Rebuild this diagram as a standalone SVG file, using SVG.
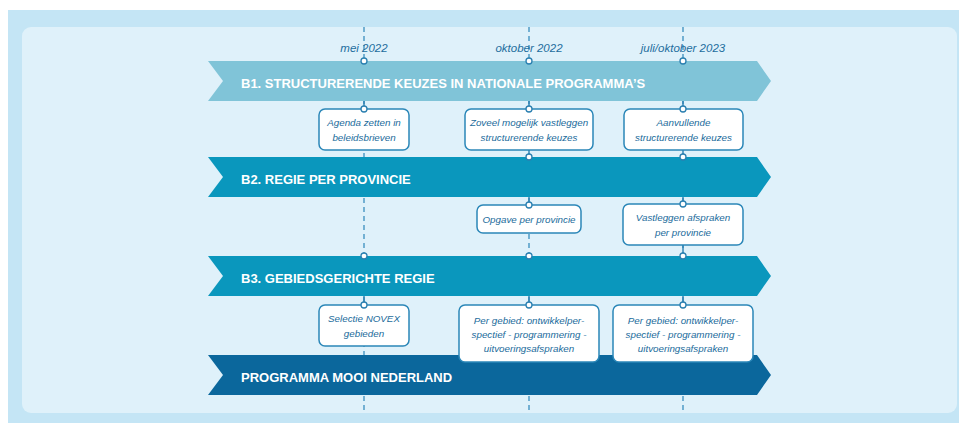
<svg xmlns="http://www.w3.org/2000/svg" width="959" height="423" viewBox="0 0 959 423">
<style>
.dash{stroke:#3a8fbf;stroke-width:1.3;stroke-dasharray:5 4;fill:none}
.seg{stroke:#2a7fb0;stroke-width:1.4;fill:none}
.dot{fill:#ffffff;stroke:#2a7fb0;stroke-width:1.3}
.band{stroke:none}
.bt{font-family:"Liberation Sans",Arial,sans-serif;font-weight:bold;font-size:13px;fill:#ffffff}
.box{fill:#ffffff;stroke:#2b87b8;stroke-width:1.5}
.btx{font-family:"Liberation Sans",Arial,sans-serif;font-style:italic;font-size:9.8px;fill:#1a6b9b;text-anchor:middle}
.lbl{font-family:"Liberation Sans",Arial,sans-serif;font-style:italic;font-size:11.5px;fill:#1e6e9e;text-anchor:middle}
</style>
<rect x="0" y="0" width="959" height="423" fill="#ffffff"/>
<rect x="8" y="10" width="951" height="413" fill="#c4e5f5"/>
<rect x="22" y="27" width="935" height="386" rx="9" fill="#dff1fa"/>

<g id="connectors">
<line class="dash" x1="364" y1="27" x2="364" y2="413"/>
<line class="dash" x1="529" y1="27" x2="529" y2="413"/>
<line class="dash" x1="683" y1="27" x2="683" y2="413"/>
<line class="seg" x1="364" y1="101" x2="364" y2="109"/>
<line class="seg" x1="529" y1="101" x2="529" y2="109"/>
<line class="seg" x1="683" y1="101" x2="683" y2="109"/>
<line class="seg" x1="529" y1="150" x2="529" y2="157"/>
<line class="seg" x1="683" y1="150" x2="683" y2="157"/>
<line class="seg" x1="529" y1="197" x2="529" y2="205"/>
<line class="seg" x1="683" y1="197" x2="683" y2="204"/>
<line class="seg" x1="683" y1="245" x2="683" y2="256"/>
<line class="seg" x1="364" y1="296" x2="364" y2="305"/>
<line class="seg" x1="529" y1="296" x2="529" y2="305"/>
<line class="seg" x1="683" y1="296" x2="683" y2="305"/>
</g>

<text class="lbl" x="364" y="52">mei 2022</text>
<text class="lbl" x="529" y="52">oktober 2022</text>
<text class="lbl" x="683" y="52">juli/oktober 2023</text>

<g id="b1">
<polygon class="band" fill="#80c4d8" points="208,61 757,61 771,81 757,101 208,101 223,81"/>
<text class="bt" x="241" y="88">B1. STRUCTURERENDE KEUZES IN NATIONALE PROGRAMMA’S</text>
</g>
<g id="b2">
<polygon class="band" fill="#0a97bd" points="208,157 757,157 771,177 757,197 208,197 223,177"/>
<text class="bt" x="241" y="184">B2. REGIE PER PROVINCIE</text>
</g>
<g id="b3">
<polygon class="band" fill="#0a97bd" points="208,256 757,256 771,276 757,296 208,296 223,276"/>
<text class="bt" x="241" y="283">B3. GEBIEDSGERICHTE REGIE</text>
</g>
<g id="pmn">
<polygon class="band" fill="#0b679c" points="208,355 757,355 771,375 757,395 208,395 223,375"/>
<text class="bt" x="241" y="382">PROGRAMMA MOOI NEDERLAND</text>
</g>

<g id="agenda">
<rect class="box" x="319" y="109" width="90" height="41" rx="6"/>
<text class="btx" x="364" y="126">Agenda zetten in</text>
<text class="btx" x="364" y="141">beleidsbrieven</text>
</g>
<g id="zoveel">
<rect class="box" x="465" y="109" width="128" height="41" rx="6"/>
<text class="btx" x="529" y="126">Zoveel mogelijk vastleggen</text>
<text class="btx" x="529" y="141">structurerende keuzes</text>
</g>
<g id="aanvullende">
<rect class="box" x="624" y="109" width="119" height="41" rx="6"/>
<text class="btx" x="683.5" y="126">Aanvullende</text>
<text class="btx" x="683.5" y="141">structurerende keuzes</text>
</g>
<g id="opgave">
<rect class="box" x="477" y="205" width="104" height="28" rx="6"/>
<text class="btx" x="529" y="223">Opgave per provincie</text>
</g>
<g id="vastleggen">
<rect class="box" x="623" y="204" width="120" height="41" rx="6"/>
<text class="btx" x="683" y="221">Vastleggen afspraken</text>
<text class="btx" x="683" y="236">per provincie</text>
</g>
<g id="selectie">
<rect class="box" x="319" y="305" width="90" height="41" rx="6"/>
<text class="btx" x="364" y="322">Selectie NOVEX</text>
<text class="btx" x="364" y="337">gebieden</text>
</g>
<g id="gebied1">
<rect class="box" x="459" y="305" width="140" height="57" rx="6"/>
<text class="btx" x="529" y="324">Per gebied: ontwikkelper-</text>
<text class="btx" x="529" y="338">spectief - programmering -</text>
<text class="btx" x="529" y="352">uitvoeringsafspraken</text>
</g>
<g id="gebied2">
<rect class="box" x="613" y="305" width="140" height="57" rx="6"/>
<text class="btx" x="683" y="324">Per gebied: ontwikkelper-</text>
<text class="btx" x="683" y="338">spectief - programmering -</text>
<text class="btx" x="683" y="352">uitvoeringsafspraken</text>
</g>

<g id="joints">
<circle class="dot" cx="364" cy="61" r="3"/>
<circle class="dot" cx="529" cy="61" r="3"/>
<circle class="dot" cx="683" cy="61" r="3"/>
<circle class="dot" cx="364" cy="109" r="3"/>
<circle class="dot" cx="529" cy="109" r="3"/>
<circle class="dot" cx="683" cy="109" r="3"/>
<circle class="dot" cx="529" cy="157" r="3"/>
<circle class="dot" cx="683" cy="157" r="3"/>
<circle class="dot" cx="529" cy="205" r="3"/>
<circle class="dot" cx="683" cy="204" r="3"/>
<circle class="dot" cx="364" cy="256" r="3"/>
<circle class="dot" cx="529" cy="256" r="3"/>
<circle class="dot" cx="683" cy="256" r="3"/>
<circle class="dot" cx="364" cy="305" r="3"/>
<circle class="dot" cx="529" cy="305" r="3"/>
<circle class="dot" cx="683" cy="305" r="3"/>
</g>
</svg>
